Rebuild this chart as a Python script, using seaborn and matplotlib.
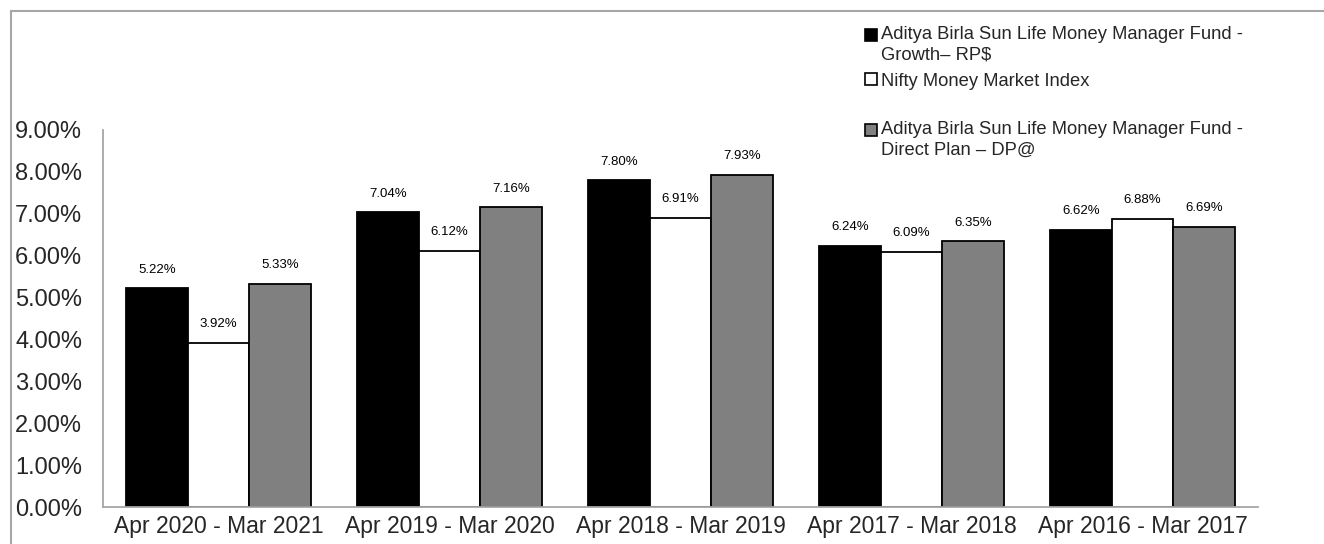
import matplotlib
matplotlib.use("Agg")
import matplotlib.pyplot as plt
import seaborn as sns
import pandas as pd
from matplotlib.patches import Patch, Rectangle
from matplotlib.legend_handler import HandlerPatch
from matplotlib.font_manager import fontManager

categories = ["Apr 2020 - Mar 2021", "Apr 2019 - Mar 2020", "Apr 2018 - Mar 2019",
              "Apr 2017 - Mar 2018", "Apr 2016 - Mar 2017"]
series_names = ["Aditya Birla Sun Life Money Manager Fund -\nGrowth\u2013 RP$",
                "Nifty Money Market Index",
                "Aditya Birla Sun Life Money Manager Fund -\nDirect Plan \u2013 DP@"]
rp_values = [5.22, 7.04, 7.80, 6.24, 6.62]
nifty_values = [3.92, 6.12, 6.91, 6.09, 6.88]
dp_values = [5.33, 7.16, 7.93, 6.35, 6.69]
colors = ["#000000", "#FFFFFF", "#808080"]

sns.set_style("white")
plt.rcParams["font.family"] = ["Liberation Sans", "DejaVu Sans"]
names = {f.name for f in fontManager.ttflist}
narrow = "Liberation Sans Narrow" if "Liberation Sans Narrow" in names else "Liberation Sans"
lab_size = 10.5 if narrow == "Liberation Sans Narrow" else 9.5

rows = []
for name, vals in zip(series_names, [rp_values, nifty_values, dp_values]):
    for c, v in zip(categories, vals):
        rows.append({"Period": c, "Series": name, "Value": v})
df = pd.DataFrame(rows)

fig = plt.figure(figsize=(13.24, 5.44), dpi=100)
ax = fig.add_axes([103/1324, 1 - 507/544, (1258-103)/1324, (507-130)/544])

sns.barplot(data=df, x="Period", y="Value", hue="Series", order=categories,
            hue_order=series_names, palette=colors, edgecolor="black",
            linewidth=1.3, width=0.8, ax=ax, legend=False, errorbar=None)

for cont, vals in zip(ax.containers, [rp_values, nifty_values, dp_values]):
    ax.bar_label(cont, labels=[f"{v:.2f}%" for v in vals], padding=9,
                 fontsize=lab_size, family=narrow, color="#000000")

ax.set_ylim(0, 9)
ax.set_xlim(-0.5, 4.5)
ax.set_yticks(range(0, 10))
ax.set_yticklabels([f"{t:.2f}%" for t in range(0, 10)], fontsize=17)
ax.tick_params(axis="y", length=0, pad=15)
ax.tick_params(axis="x", length=0, pad=6, labelsize=16.5)
ax.set_xlabel("")
ax.set_ylabel("")
for s in ["top", "right"]:
    ax.spines[s].set_visible(False)
for s in ["left", "bottom"]:
    ax.spines[s].set_color("#A6A6A6")
    ax.spines[s].set_linewidth(1.3)

# outer frame
fig.patches.append(Rectangle((11/1324, -0.5), 2.0, 1 - 11/544 + 0.5,
                             transform=fig.transFigure, fill=False,
                             edgecolor="#A6A6A6", linewidth=1.5))


def make_handler(shift):
    def patch_func(legend, orig_handle, xdescent, ydescent, width, height, fontsize):
        return Rectangle((-xdescent, -ydescent + shift), width, height)
    return HandlerPatch(patch_func=patch_func)


# legends (three separate entries with uneven spacing)
positions = [45, 81, 140]
for name, col, ypix in zip(series_names, colors, positions):
    h = Patch(facecolor=col, edgecolor="black", linewidth=1.2)
    shift = 7.5 if "\n" in name else 0.0
    leg = fig.legend([h], [name], loc="center left",
                     bbox_to_anchor=(865/1324, 1 - ypix/544),
                     frameon=False, fontsize=13.2, handlelength=0.65,
                     handleheight=0.65, handletextpad=0.2, borderpad=0,
                     borderaxespad=0, handler_map={h: make_handler(shift)})
    for t in leg.get_texts():
        t.set_linespacing(1.3)

fig.savefig("out.png", dpi=100)
